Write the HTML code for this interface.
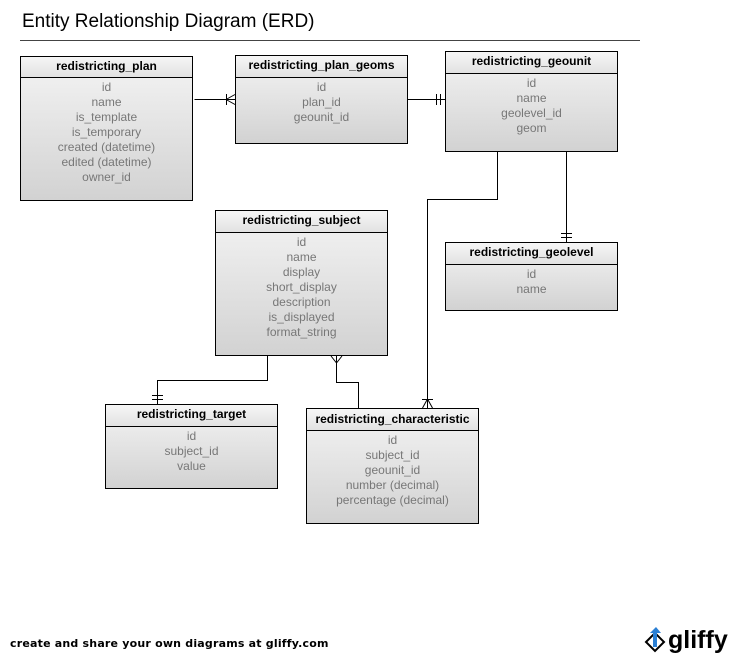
<!DOCTYPE html>
<html><head><style>
body{margin:0;width:740px;height:660px;background:#fff;position:relative;font-family:"Liberation Sans",Arial,sans-serif;overflow:hidden}
.t{position:absolute;left:22px;top:11px;font-size:19px;color:#000}
.hr{position:absolute;left:20px;top:40px;width:620px;height:1px;background:#444}
.b{position:absolute;border:1px solid #000;background:linear-gradient(#f4f4f4,#d2d2d2);box-sizing:border-box}
.h{border-bottom:1px solid #000;font-weight:bold;font-size:12px;text-align:center;background:linear-gradient(#f6f6f6,#e2e2e2);box-sizing:border-box}
.r{text-align:center;font-size:12px;color:#777;line-height:15px;padding-top:2px}
.f{position:absolute;left:10px;top:637px;font-size:11px;font-weight:bold;color:#000;font-family:"DejaVu Sans",sans-serif;letter-spacing:0.2px}
.g{position:absolute;left:668px;top:626px;font-size:25px;font-weight:bold;color:#000}
</style></head><body>
<div class="t">Entity Relationship Diagram (ERD)</div>
<div class="hr"></div>

<div class="b" style="left:20px;top:56px;width:173px;height:145px"><div class="h" style="height:21px;line-height:19px">redistricting_plan</div><div class="r">id<br>name<br>is_template<br>is_temporary<br>created (datetime)<br>edited (datetime)<br>owner_id</div></div>
<div class="b" style="left:235px;top:55px;width:173px;height:89px"><div class="h" style="height:22px;line-height:18px">redistricting_plan_geoms</div><div class="r">id<br>plan_id<br>geounit_id</div></div>
<div class="b" style="left:445px;top:51px;width:173px;height:101px"><div class="h" style="height:22px;line-height:18px">redistricting_geounit</div><div class="r">id<br>name<br>geolevel_id<br>geom</div></div>
<div class="b" style="left:445px;top:242px;width:173px;height:69px"><div class="h" style="height:22px;line-height:19px">redistricting_geolevel</div><div class="r">id<br>name</div></div>
<div class="b" style="left:215px;top:210px;width:173px;height:146px"><div class="h" style="height:22px;line-height:19px">redistricting_subject</div><div class="r">id<br>name<br>display<br>short_display<br>description<br>is_displayed<br>format_string</div></div>
<div class="b" style="left:105px;top:404px;width:173px;height:85px"><div class="h" style="height:22px;line-height:19px">redistricting_target</div><div class="r">id<br>subject_id<br>value</div></div>
<div class="b" style="left:306px;top:408px;width:173px;height:116px"><div class="h" style="height:22px;line-height:20px">redistricting_characteristic</div><div class="r">id<br>subject_id<br>geounit_id<br>number (decimal)<br>percentage (decimal)</div></div>

<svg width="740" height="660" style="position:absolute;left:0;top:0" fill="none" stroke="#000" stroke-width="1">
<path d="M194.5 99.5H235M226.5 94v11M226 99.5l9-5M226 99.5l9 5"/>
<path d="M408 99.5H445M436.5 94v11M440.5 94v11"/>
<path d="M566.5 152V242M561 233.5h11M561 237.5h11"/>
<path d="M497.5 152V199.5H427.5V408M422 399.5h11M427.5 399l-5 9M427.5 399l5 9"/>
<path d="M267.5 356V380.5H157.5V404M152 395.5h11M152 399.5h11"/>
<path d="M336.5 356V382.5H358.5V408M331 356l5.5 7M342 356l-5.5 7"/>
</svg>

<div class="f">create and share your own diagrams at gliffy.com</div>
<svg width="30" height="30" style="position:absolute;left:643px;top:625px"><path d="M3 17l9-9 9 9-9 9z" fill="none" stroke="#000" stroke-width="2"/><path d="M12 22V6" stroke="#2a7fd4" stroke-width="4"/><path d="M7 8l6-6 5 6z" fill="#2a7fd4"/></svg>
<div class="g">gliffy</div>
</body></html>
